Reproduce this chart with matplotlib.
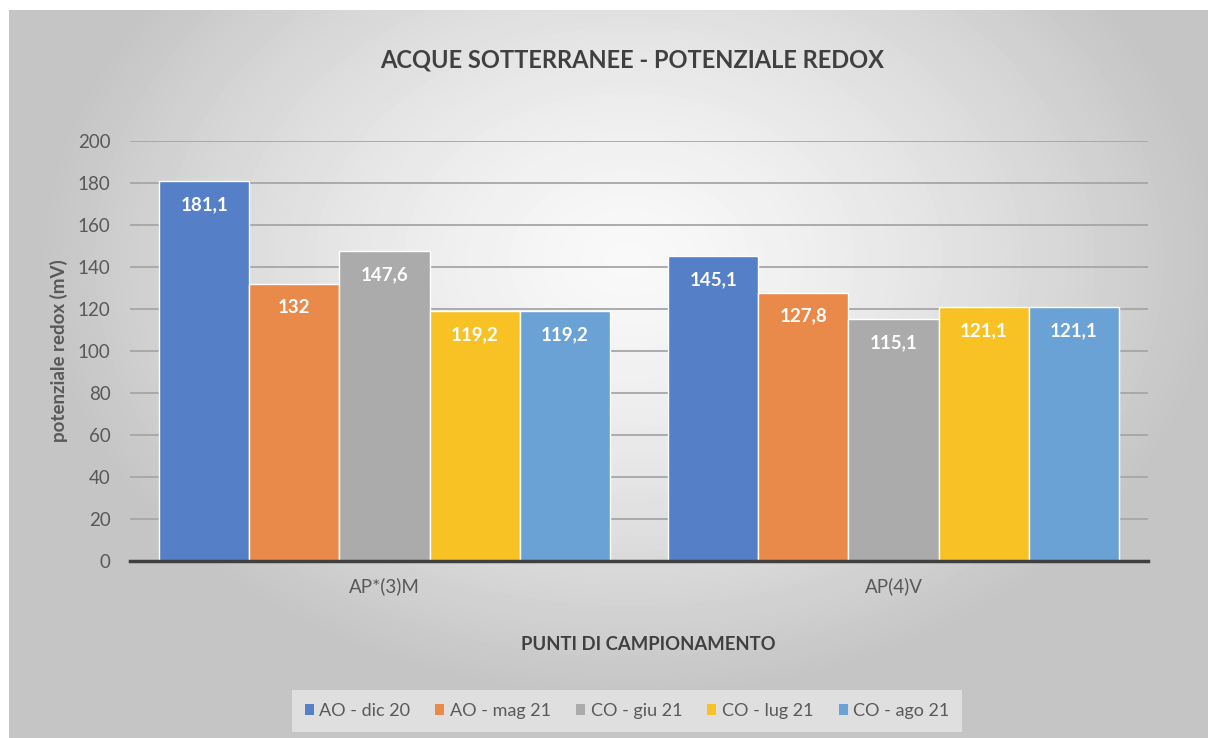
import numpy as np
import matplotlib.pyplot as plt
from matplotlib.patches import Patch

# data
categories = ["AP*(3)M", "AP(4)V"]
series = ["AO - dic 20", "AO - mag 21", "CO - giu 21", "CO - lug 21", "CO - ago 21"]
values = [
    [181.1, 145.1],
    [132.0, 127.8],
    [147.6, 115.1],
    [119.2, 121.1],
    [119.2, 121.1],
]
colors = ["#5580C8", "#E98A4B", "#ABABAB", "#F8C224", "#6AA2D6"]
yticks = [0, 20, 40, 60, 80, 100, 120, 140, 160, 180, 200]

plt.rcParams['font.family'] = ['Lato', 'DejaVu Sans']
text_col = "#595959"

W, H = 1208, 738
fig = plt.figure(figsize=(W / 100, H / 100), dpi=100)
fig.patch.set_facecolor("white")

# radial gradient background of the chart area
bg = fig.add_axes([9 / W, 0, 1 - 9 / W, 1 - 10 / H], zorder=-10)
yy, xx = np.mgrid[0:H - 10, 0:W - 9]
d = np.sqrt(((xx - 620) / 700.0) ** 2 + ((yy - 250) / 520.0) ** 2)
g = np.clip(0.975 - 0.26 * d ** 1.4, 0.77, 1.0)
bg.imshow(g, cmap="gray", vmin=0, vmax=1, aspect="auto", interpolation="bilinear")
bg.axis("off")

ax = fig.add_axes([130 / W, 1 - 561 / H, (1148 - 130) / W, (561 - 141) / H])
ax.patch.set_alpha(0)

x = np.arange(len(categories))
bw = 0.177
for i, (name, vals, c) in enumerate(zip(series, values, colors)):
    pos = x + (i - 2) * bw
    bars = ax.bar(pos, vals, width=bw, color=c, edgecolor="white", linewidth=1.0,
                  label=name, zorder=3)
    for b, v in zip(bars, vals):
        txt = str(int(v)) if v == int(v) else ("%.1f" % v).replace(".", ",")
        ax.annotate(txt, (b.get_x() + b.get_width() / 2, v), xytext=(0, -17),
                    textcoords="offset points", ha="center", va="center",
                    color="white", fontsize=13.5, fontweight="bold", zorder=4)

ax.set_xlim(-0.5, 1.5)
ax.set_ylim(0, 200)
ax.set_yticks(yticks)
ax.set_xticks(x)
ax.set_xticklabels(categories)
ax.tick_params(axis="both", length=0, labelsize=13.5, colors=text_col)
ax.tick_params(axis="y", pad=14)
ax.tick_params(axis="x", pad=12)
ax.grid(axis="y", color="#a6a6a6", linewidth=1.3, zorder=0)
for s in ["top", "right", "left"]:
    ax.spines[s].set_visible(False)
ax.spines["bottom"].set_color("#404040")
ax.spines["bottom"].set_linewidth(2.5)
ax.spines["bottom"].set_zorder(5)

ax.set_ylabel("potenziale redox (mV)", fontsize=13.5, fontweight="bold",
              color=text_col, labelpad=7)

fig.text(632 / W, 1 - 60 / H, "ACQUE SOTTERRANEE - POTENZIALE REDOX",
         ha="center", va="center", fontsize=17, fontweight="bold", color="#404040")
fig.text(648 / W, 1 - 645 / H, "PUNTI DI CAMPIONAMENTO", ha="center", va="center",
         fontsize=13.3, fontweight="bold", color="#404040")

handles = [Patch(facecolor=c, edgecolor="none") for c in colors]
leg = fig.legend(handles, series, loc="center", bbox_to_anchor=(627 / W, 1 - 711 / H),
                 ncol=5, frameon=True, fontsize=13, handlelength=0.5,
                 handleheight=0.5, handletextpad=0.3, columnspacing=1.4,
                 borderpad=0.4, labelcolor=text_col)
leg.get_frame().set_facecolor("#e2e2e2")
leg.get_frame().set_edgecolor("none")
leg.get_frame().set_alpha(0.9)
leg.get_frame().set_boxstyle("square")

fig.savefig("out.png", dpi=100)
